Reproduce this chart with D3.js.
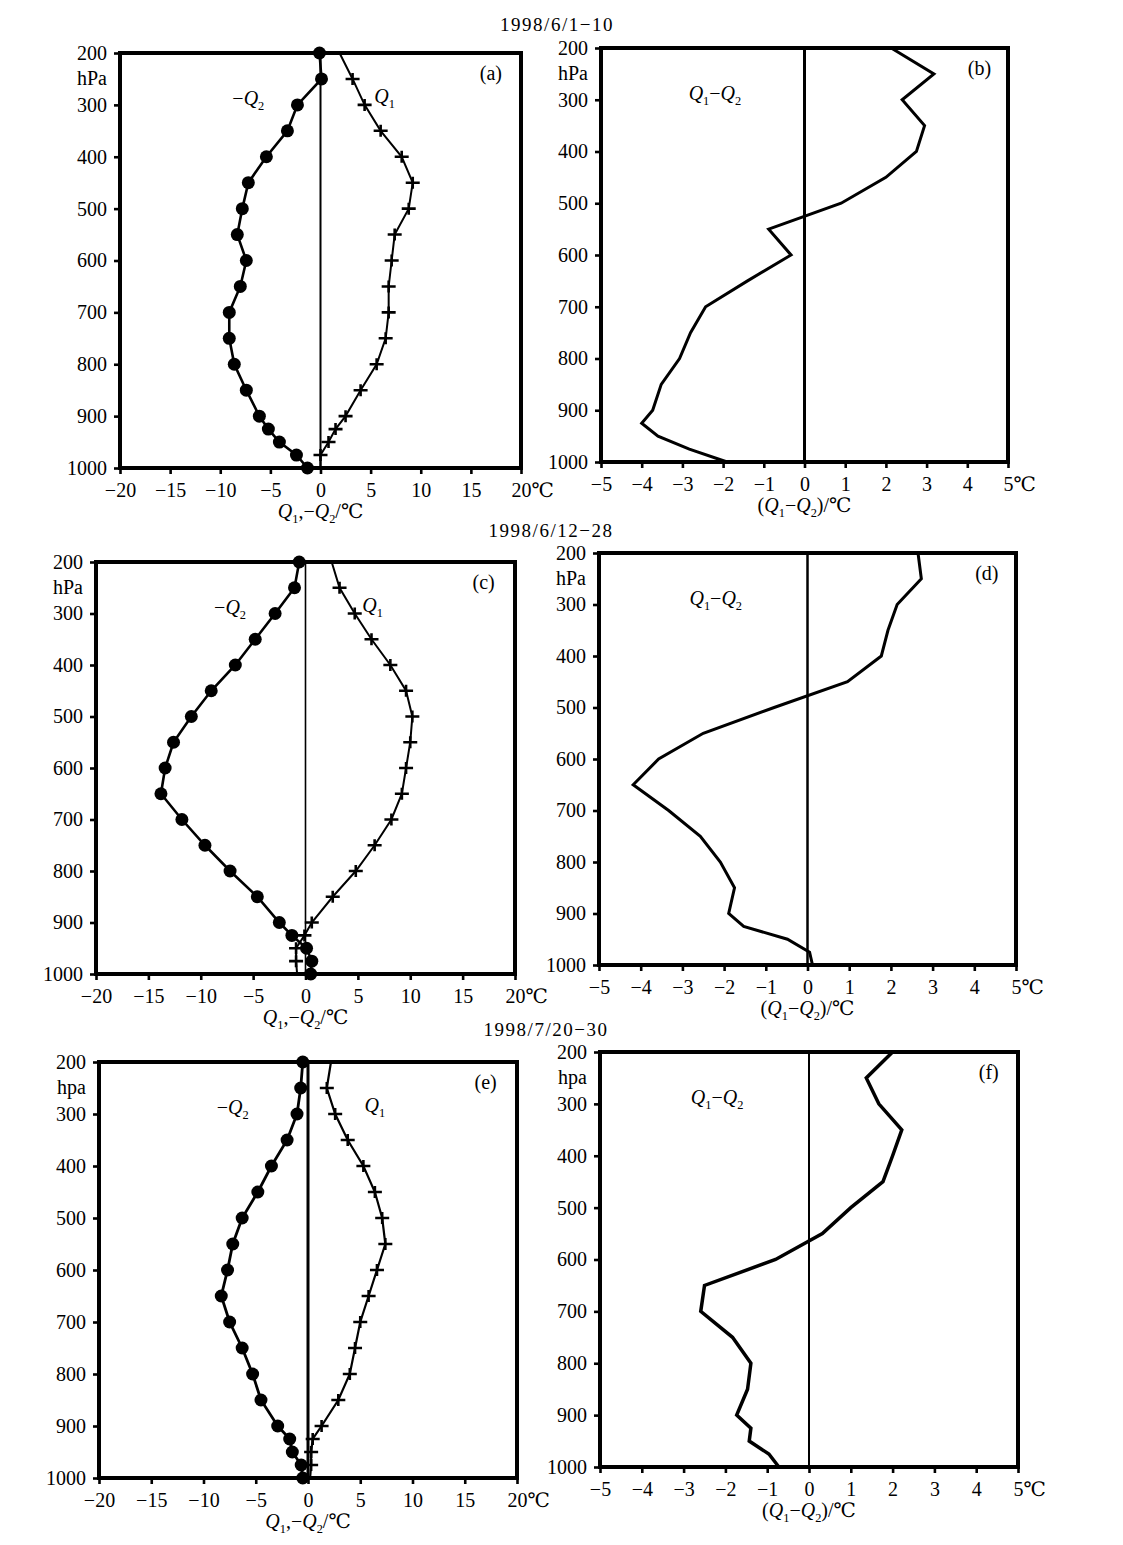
<!DOCTYPE html>
<html>
<head>
<meta charset="utf-8">
<script src="https://cdn.jsdelivr.net/npm/d3@7"></script>
<style>
  html, body { margin: 0; padding: 0; background: #fff; }
  svg text { font-family: "Liberation Serif", "DejaVu Serif", "Times New Roman", serif; fill: #000; }
</style>
</head>
<body>
<svg id="chart" width="1123" height="1545"></svg>
<script>
// ---------------- data ----------------
const levels = [200, 250, 300, 350, 400, 450, 500, 550, 600, 650, 700, 750, 800, 850, 900, 925, 950, 975, 1000];
const yTicks = [200, 300, 400, 500, 600, 700, 800, 900, 1000];
const xTicksWide = [-20, -15, -10, -5, 0, 5, 10, 15, 20];
const xTicksNarrow = [-5, -4, -3, -2, -1, 0, 1, 2, 3, 4, 5];
const rowTitles = ["1998/6/1−10", "1998/6/12−28", "1998/7/20−30"];
const panelLetters = ["(a)", "(b)", "(c)", "(d)", "(e)", "(f)"];
const unitLabels = ["hPa", "hPa", "hPa", "hPa", "hpa", "hpa"];

// 1998/6/1-10
const q1_a    = [1.9, 3.2, 4.4, 6.0, 8.1, 9.2, 8.8, 7.4, 7.1, 6.8, 6.8, 6.5, 5.6, 4.0, 2.5, 1.5, 0.8, 0.0, 0.0];
const negQ2_a = [-0.1, 0.1, -2.3, -3.3, -5.4, -7.2, -7.8, -8.3, -7.4, -8.0, -9.1, -9.1, -8.6, -7.4, -6.1, -5.2, -4.1, -2.4, -1.3];
const diff_b  = [2.13, 3.18, 2.40, 2.95, 2.75, 2.0, 0.9, -0.88, -0.33, -1.4, -2.43, -2.8, -3.07, -3.52, -3.73, -4.0, -3.6, -2.83, -1.9];
// 1998/6/12-28
const q1_c    = [2.5, 3.25, 4.7, 6.3, 8.1, 9.6, 10.2, 10.0, 9.6, 9.2, 8.2, 6.6, 4.8, 2.6, 0.6, -0.1, -0.9, -0.9, -0.8];
const negQ2_c = [-0.6, -1.05, -2.9, -4.8, -6.7, -9.0, -10.9, -12.6, -13.4, -13.8, -11.8, -9.6, -7.2, -4.6, -2.5, -1.3, 0.1, 0.6, 0.5];
const diff_d  = [2.65, 2.73, 2.15, 1.93, 1.77, 0.96, -0.8, -2.5, -3.57, -4.18, -3.33, -2.57, -2.09, -1.75, -1.89, -1.53, -0.48, 0.05, 0.12];
// 1998/7/20-30
const q1_e    = [2.2, 1.8, 2.6, 3.8, 5.3, 6.4, 7.1, 7.4, 6.6, 5.8, 5.0, 4.5, 4.0, 2.9, 1.3, 0.45, 0.3, 0.3, 0.2];
const negQ2_e = [-0.5, -0.7, -1.05, -2.0, -3.5, -4.8, -6.3, -7.2, -7.7, -8.3, -7.5, -6.3, -5.3, -4.5, -2.9, -1.75, -1.5, -0.65, -0.5];
const diff_f  = [2.0, 1.37, 1.67, 2.22, 2.0, 1.77, 1.0, 0.32, -0.8, -2.5, -2.59, -1.83, -1.39, -1.47, -1.73, -1.39, -1.43, -0.96, -0.72];

// ---------------- layout (positions / styles) ----------------
const layout = [
  { left: 120, right: 521, top: 53,   bottom: 468,  kind: "q",    q1: q1_a, q2: negQ2_a, zeroW: 2,   lineW: 2 },
  { left: 601, right: 1008, top: 48,  bottom: 462,  kind: "diff", d: diff_b,             zeroW: 3,   lineW: 3 },
  { left: 96,  right: 515, top: 562,  bottom: 974,  kind: "q",    q1: q1_c, q2: negQ2_c, zeroW: 1.6, lineW: 2 },
  { left: 599, right: 1016, top: 553, bottom: 965,  kind: "diff", d: diff_d,             zeroW: 2.5, lineW: 3 },
  { left: 99,  right: 517, top: 1062, bottom: 1478, kind: "q",    q1: q1_e, q2: negQ2_e, zeroW: 3,   lineW: 2.2 },
  { left: 600, right: 1018, top: 1052, bottom: 1467, kind: "diff", d: diff_f,            zeroW: 2,   lineW: 3.5 }
];
const titlePos = [ {x: 557, y: 31}, {x: 551, y: 537}, {x: 546, y: 1036} ];

const svg = d3.select("#chart");
const FS = 20;

// writes mixed text: strings and ["Q", sub] pieces
function richText(textSel, parts) {
  let pendingDy = 0;
  parts.forEach(p => {
    if (typeof p === "string") {
      textSel.append("tspan").attr("dy", pendingDy).text(p);
      pendingDy = 0;
    } else {
      textSel.append("tspan").attr("dy", pendingDy).attr("font-style", "italic").text(p[0]);
      textSel.append("tspan").attr("dy", 5).attr("font-size", "0.62em").text(p[1]);
      pendingDy = -5;
    }
  });
}

// row titles
rowTitles.forEach((t, i) => {
  svg.append("text")
    .attr("x", titlePos[i].x).attr("y", titlePos[i].y)
    .attr("text-anchor", "middle")
    .attr("font-size", 19)
    .attr("letter-spacing", 1.5)
    .text(t);
});

layout.forEach((L, i) => {
  const isQ = L.kind === "q";
  const xDomain = isQ ? [-20, 20] : [-5, 5];
  const xTicks = isQ ? xTicksWide : xTicksNarrow;
  const x = d3.scaleLinear().domain(xDomain).range([L.left, L.right]);
  const y = d3.scaleLinear().domain([200, 1000]).range([L.top, L.bottom]);
  const g = svg.append("g");

  // zero line
  g.append("line")
    .attr("x1", x(0)).attr("x2", x(0))
    .attr("y1", y(200)).attr("y2", y(1000))
    .attr("stroke", "#000").attr("stroke-width", L.zeroW);

  const line = d3.line().x(d => x(d[0])).y(d => y(d[1]));

  if (isQ) {
    const q1Pts = levels.map((p, k) => [L.q1[k], p]);
    const q2Pts = levels.map((p, k) => [L.q2[k], p]);
    g.append("path").attr("d", line(q2Pts)).attr("fill", "none")
      .attr("stroke", "#000").attr("stroke-width", L.lineW + 0.6);
    g.append("path").attr("d", line(q1Pts)).attr("fill", "none")
      .attr("stroke", "#000").attr("stroke-width", L.lineW);
    g.selectAll(".c").data(q2Pts).join("circle")
      .attr("cx", d => x(d[0])).attr("cy", d => y(d[1]))
      .attr("r", 6.5).attr("fill", "#000");
    g.selectAll(".p").data(q1Pts.slice(1, -1)).join("path")
      .attr("transform", d => `translate(${x(d[0])},${y(d[1])})`)
      .attr("d", "M-7,0H7M0,-6V6")
      .attr("stroke", "#000").attr("stroke-width", 2.6).attr("fill", "none");
  } else {
    const dPts = levels.map((p, k) => [L.d[k], p]);
    g.append("path").attr("d", line(dPts)).attr("fill", "none")
      .attr("stroke", "#000").attr("stroke-width", L.lineW)
      .attr("stroke-linejoin", "miter");
  }

  // frame
  g.append("rect")
    .attr("x", L.left).attr("y", L.top)
    .attr("width", L.right - L.left).attr("height", L.bottom - L.top)
    .attr("fill", "none").attr("stroke", "#000").attr("stroke-width", 4);

  // x axis
  const xa = g.append("g").attr("transform", `translate(0,${L.bottom})`)
    .call(d3.axisBottom(x).tickValues(xTicks).tickSize(6).tickPadding(9)
      .tickFormat(v => (v < 0 ? "−" + Math.abs(v) : String(v))));
  xa.select(".domain").remove();
  xa.selectAll(".tick line").attr("stroke", "#000").attr("stroke-width", 2.6);
  xa.selectAll(".tick text").attr("font-size", FS).attr("fill", "#000")
    .attr("font-family", '"Liberation Serif", "DejaVu Serif", serif');
  const last = xa.selectAll(".tick text").filter(v => v === xDomain[1]);
  last.attr("text-anchor", "start").attr("dx", isQ ? -10 : -5).text(d => String(d) + "℃");

  // y axis
  const ya = g.append("g").attr("transform", `translate(${L.left},0)`)
    .call(d3.axisLeft(y).tickValues(yTicks).tickSize(6).tickPadding(7).tickFormat(d3.format("d")));
  ya.select(".domain").remove();
  ya.selectAll(".tick line").attr("stroke", "#000").attr("stroke-width", 2.6);
  ya.selectAll(".tick text").attr("font-size", FS).attr("fill", "#000")
    .attr("font-family", '"Liberation Serif", "DejaVu Serif", serif');
  g.append("text")
    .attr("x", L.left - 13).attr("y", y(250)).attr("dy", "0.32em")
    .attr("text-anchor", "end").attr("font-size", FS)
    .text(unitLabels[i]);

  // panel letter
  g.append("text")
    .attr("x", x(isQ ? 17 : 4.3)).attr("y", y(240)).attr("dy", "0.32em")
    .attr("text-anchor", "middle").attr("font-size", FS)
    .text(panelLetters[i]);

  // series labels
  if (isQ) {
    const t1 = g.append("text").attr("x", x(-7.2)).attr("y", y(300)).attr("dy", "0.32em")
      .attr("text-anchor", "middle").attr("font-size", FS);
    richText(t1, ["−", ["Q", "2"]]);
    const t2 = g.append("text").attr("x", x(6.4)).attr("y", y(297)).attr("dy", "0.32em")
      .attr("text-anchor", "middle").attr("font-size", FS);
    richText(t2, [["Q", "1"]]);
  } else {
    const t = g.append("text").attr("x", x(-2.2)).attr("y", y(300)).attr("dy", "0.32em")
      .attr("text-anchor", "middle").attr("font-size", FS);
    richText(t, [["Q", "1"], "−", ["Q", "2"]]);
  }

  // axis title
  const at = g.append("text")
    .attr("x", x(0)).attr("y", L.bottom + 50)
    .attr("text-anchor", "middle").attr("font-size", FS);
  if (isQ) richText(at, [["Q", "1"], ",−", ["Q", "2"], "/℃"]);
  else richText(at, ["(", ["Q", "1"], "−", ["Q", "2"], ")/℃"]);
});
</script>
</body>
</html>
